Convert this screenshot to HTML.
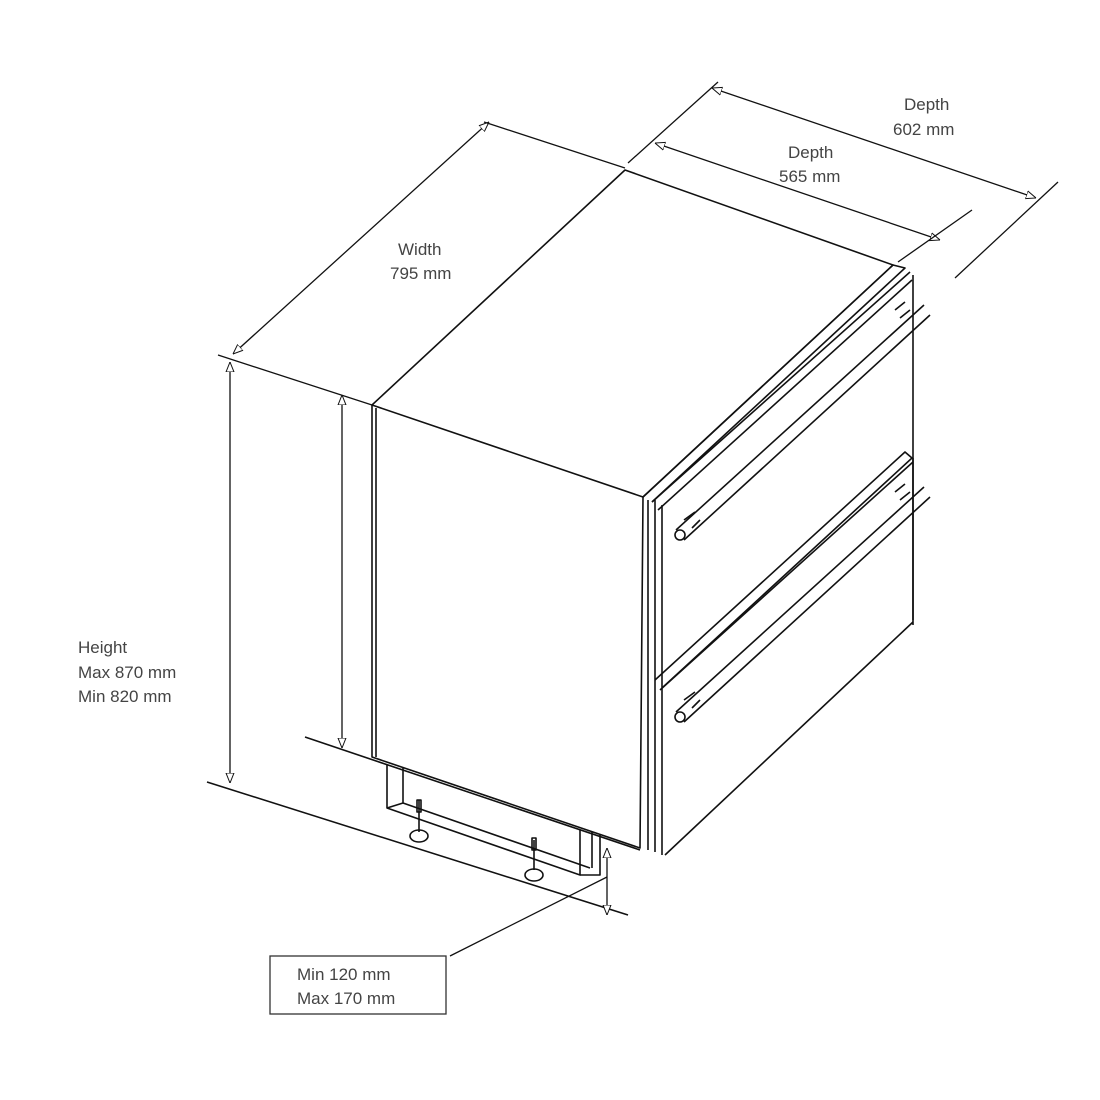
<!DOCTYPE html>
<html><head><meta charset="utf-8"><style>
html,body{margin:0;padding:0;background:#fff;width:1100px;height:1100px;overflow:hidden}
svg{display:block}
text{font-family:"Liberation Sans",sans-serif;font-size:17px;fill:#444}
</style></head><body>
<svg width="1100" height="1100" viewBox="0 0 1100 1100" xmlns="http://www.w3.org/2000/svg">
<defs>
<marker id="a" viewBox="0 0 10 10" refX="10" refY="5" markerWidth="10" markerHeight="10" orient="auto-start-reverse" markerUnits="userSpaceOnUse"><path d="M0,1 L10,5 L0,9 Z" fill="#fff" stroke="#111" stroke-width="1"/></marker>
</defs>
<g stroke="#111" stroke-width="1.6" fill="none" stroke-linejoin="round">
<!-- top face -->
<path d="M372,405 L625,170 L893,265 L643,497 Z"/>
<!-- left face -->
<path d="M372,405 L372,757 L640,848 L643,497"/>
<line x1="376" y1="408" x2="376" y2="757"/>
<!-- door stack front edge verticals -->
<line x1="648" y1="500" x2="648" y2="850"/>
<line x1="655" y1="500" x2="655" y2="852"/>
<line x1="662" y1="505" x2="662" y2="855"/>
<!-- top drawer -->
<path d="M643,497 L893,265 L905,268 L652,502"/>
<path d="M652,502 L910,272"/>
<path d="M658,510 L912,280"/>
<line x1="913" y1="275" x2="913" y2="625"/>
<!-- top handle -->
<path d="M676,530 L924,305 M684,540 L930,315"/>
<circle cx="680" cy="535" r="5"/>
<path d="M684,520 L695,512 M692,528 L700,520"/>
<path d="M895,310 L905,302 M900,318 L910,310"/>
<!-- lower drawer divider -->
<path d="M655,680 L905,452 L912,458 L662,688"/>
<path d="M660,690 L913,462"/>
<line x1="913" y1="458" x2="913" y2="620"/>
<!-- lower handle -->
<path d="M676,712 L924,487 M684,722 L930,497"/>
<circle cx="680" cy="717" r="5"/>
<path d="M684,700 L695,692 M692,708 L700,700"/>
<path d="M895,492 L905,484 M900,500 L910,492"/>
<!-- bottom drawer bottom -->
<path d="M665,855 L913,622"/>
<!-- plinth -->
<path d="M387,765 L387,808 L580,875 L580,830"/>
<path d="M403,768 L403,803"/>
<path d="M387,808 L403,803 L590,868"/>
<path d="M600,835 L600,875 L580,875 M592,832 L592,868"/>
<!-- feet -->
<ellipse cx="419" cy="836" rx="9" ry="6"/><line x1="419" y1="800" x2="419" y2="832"/><rect x="417" y="800" width="4" height="12"/>
<ellipse cx="534" cy="875" rx="9" ry="6"/><line x1="534" y1="840" x2="534" y2="870"/><rect x="532" y="838" width="4" height="12"/>
<!-- ground lines -->
<line x1="305" y1="737" x2="640" y2="850"/>
<line x1="207" y1="782" x2="628" y2="915"/>
</g>
<g stroke="#111" stroke-width="1.3" fill="none">
<!-- height dimension -->
<line x1="218" y1="355" x2="372" y2="405"/>
<line x1="230" y1="362" x2="230" y2="783" marker-start="url(#a)" marker-end="url(#a)"/>
<line x1="342" y1="395" x2="342" y2="748" marker-start="url(#a)" marker-end="url(#a)"/>
<!-- width dimension -->
<line x1="233" y1="354" x2="489" y2="122" marker-start="url(#a)" marker-end="url(#a)"/>
<line x1="484" y1="122" x2="625" y2="168"/>
<!-- depth 565 -->
<line x1="655" y1="143" x2="940" y2="240" marker-start="url(#a)" marker-end="url(#a)"/>
<line x1="628" y1="163" x2="718" y2="82"/>
<line x1="898" y1="262" x2="972" y2="210"/>
<!-- depth 602 -->
<line x1="712" y1="88" x2="1036" y2="198" marker-start="url(#a)" marker-end="url(#a)"/>
<line x1="955" y1="278" x2="1058" y2="182"/>
<!-- plinth dimension -->
<line x1="607" y1="848" x2="607" y2="915" marker-start="url(#a)" marker-end="url(#a)"/>
<line x1="450" y1="956" x2="607" y2="877"/>
<rect x="270" y="956" width="176" height="58" stroke="#333"/>
</g>
<text x="398" y="255">Width</text>
<text x="390" y="279">795 mm</text>
<text x="788" y="158">Depth</text>
<text x="779" y="182">565 mm</text>
<text x="904" y="110">Depth</text>
<text x="893" y="135">602 mm</text>
<text x="78" y="653">Height</text>
<text x="78" y="678">Max 870 mm</text>
<text x="78" y="702">Min 820 mm</text>
<text x="297" y="980">Min 120 mm</text>
<text x="297" y="1004">Max 170 mm</text>
</svg>
</body></html>
